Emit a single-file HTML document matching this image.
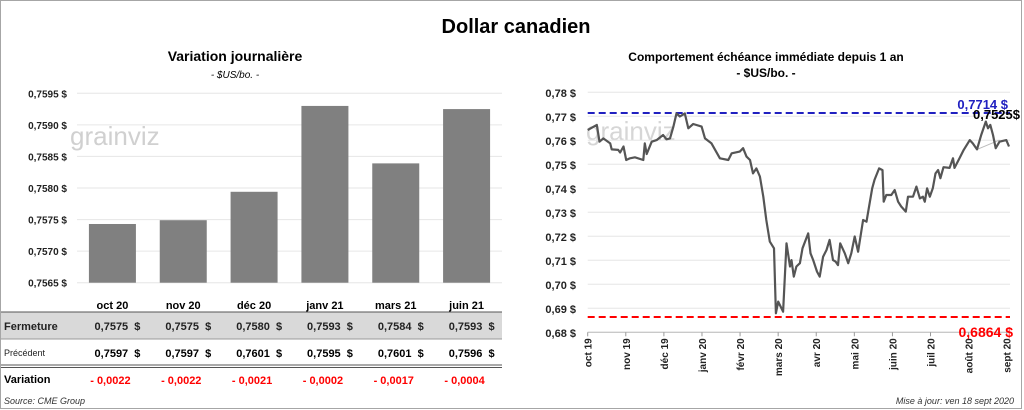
<!DOCTYPE html>
<html><head><meta charset="utf-8">
<style>
html,body{margin:0;padding:0;background:#fff;}
body{width:1024px;height:410px;overflow:hidden;position:relative;font-family:"Liberation Sans","DejaVu Sans",sans-serif;}
svg{position:absolute;left:0;top:0;}
</style></head>
<body>
<svg id="chart" width="1024" height="410" viewBox="0 0 1024 410" xmlns="http://www.w3.org/2000/svg" font-family="Liberation Sans, DejaVu Sans, sans-serif">
  <rect x="0.5" y="0.5" width="1021" height="408" fill="#fff" stroke="#a6a6a6"/>
  <text x="516" y="33" text-anchor="middle" font-size="20" font-weight="bold" fill="#000">Dollar canadien</text>
  <text x="235" y="61" text-anchor="middle" font-size="14" font-weight="bold" fill="#000">Variation  journalière</text>
  <text x="235" y="78" text-anchor="middle" font-size="10" font-style="italic" fill="#000">- $US/bo. -</text>
  <text x="766" y="61" text-anchor="middle" font-size="12" font-weight="bold" fill="#000">Comportement échéance immédiate depuis 1 an</text>
  <text x="766" y="77" text-anchor="middle" font-size="12" font-weight="bold" fill="#000">- $US/bo. -</text>
  <g id="left"></g>
  <g id="right"></g>
  <g id="table"></g>
  <text x="4" y="404" font-size="9" font-style="italic" fill="#333">Source: CME Group</text>
  <text x="1014" y="404" text-anchor="end" font-size="9" font-style="italic" fill="#333">Mise à jour: ven 18 sept 2020</text>
</svg>
<script>
const barCategories = ["oct 20","nov 20","déc 20","janv 21","mars 21","juin 21"];
const barValues = [0.75743,0.75749,0.75794,0.7593,0.75839,0.75925];
const barTicks = [0.7565,0.7570,0.7575,0.7580,0.7585,0.7590,0.7595];
const closeVals = ["0,7575","0,7575","0,7580","0,7593","0,7584","0,7593"];
const prevVals = ["0,7597","0,7597","0,7601","0,7595","0,7601","0,7596"];
const changeVals = ["- 0,0022","- 0,0022","- 0,0021","- 0,0002","- 0,0017","- 0,0004"];

const lineMonths = ["oct 19","nov 19","déc 19","janv 20","févr 20","mars 20","avr 20","mai 20","juin 20","juil 20","août 20","sept 20"];
const lineTicks = [0.68,0.69,0.70,0.71,0.72,0.73,0.74,0.75,0.76,0.77,0.78];
const lineT = [0,.24,.31,.41,.59,.63,.80,.85,.94,1.01,1.11,1.24,1.46,1.50,1.55,1.68,1.81,1.98,2.07,2.16,2.25,2.33,2.42,2.55,2.64,2.77,2.99,3.08,3.25,3.47,3.69,3.78,3.99,4.08,4.17,4.26,4.34,4.43,4.52,4.61,4.69,4.78,4.89,4.94,5.00,5.13,5.22,5.31,5.35,5.41,5.48,5.57,5.64,5.79,5.85,5.92,6.02,6.09,6.18,6.27,6.35,6.44,6.51,6.57,6.63,6.75,6.84,6.92,7.01,7.10,7.23,7.32,7.40,7.47,7.53,7.65,7.74,7.77,7.84,7.97,8.06,8.15,8.23,8.35,8.41,8.54,8.63,8.72,8.80,8.85,8.91,8.98,9.06,9.13,9.20,9.26,9.34,9.50,9.59,9.63,9.76,9.87,10.03,10.11,10.22,10.33,10.45,10.51,10.57,10.64,10.71,10.81,10.99,11.06];
const lineV = [.7643,.7664,.7594,.7608,.7587,.7562,.7560,.7549,.7574,.7518,.7525,.7529,.7518,.7587,.7543,.7594,.7601,.7622,.7604,.7608,.7657,.7712,.7699,.7712,.7650,.7668,.7657,.7608,.7587,.7525,.7518,.7546,.7553,.7567,.7532,.7518,.7462,.7483,.7449,.7365,.7268,.7178,.7150,.6879,.6928,.6886,.7171,.7074,.7101,.7032,.7074,.7088,.7150,.7212,.7129,.7101,.7053,.7032,.7115,.7143,.7185,.7101,.7094,.7080,.7171,.7129,.7088,.7129,.7199,.7136,.7268,.7261,.7337,.7400,.7435,.7483,.7476,.7344,.7372,.7372,.7393,.7344,.7324,.7303,.7365,.7365,.7407,.7358,.7365,.7344,.7400,.7365,.7400,.7462,.7476,.7442,.7488,.7485,.7525,.7485,.7525,.7560,.7601,.7587,.7562,.7622,.7678,.7650,.7664,.7622,.7567,.7594,.7601,.7574];
const highVal = 0.7714, lowVal = 0.6864, lastVal = 0.7525;

const NS="http://www.w3.org/2000/svg";
function mk(parent,tag,attrs,text){const e=document.createElementNS(NS,tag);for(const k in attrs)e.setAttribute(k,attrs[k]);if(text!==undefined)e.textContent=text;parent.appendChild(e);return e;}
const fmt=(v,d)=>v.toFixed(d).replace('.',',');

// ---- bar chart
const L=document.getElementById('left');
const bx0=77,bx1=502,by0=282.7,by1=93.3;
const byS=v=>by0-(v-0.7565)/(0.7595-0.7565)*(by0-by1);
const band=(bx1-bx0)/barCategories.length;
const bxS=i=>bx0+band*(i+0.5);
const wmL=mk(L,'text',{x:70,y:145,'font-size':26,fill:'#d0d0d0'},'grainviz');


barTicks.forEach(t=>{
  const g=mk(L,'line',{x1:bx0,x2:bx1,y1:byS(t),y2:byS(t),stroke:'#e6e6e6','stroke-width':1});
  
  
  const tx=mk(L,'text',{x:67,y:byS(t)+4,'text-anchor':'end','font-size':10,'font-weight':'bold',fill:'#222'},fmt(t,4)+' $');
  
  
});
barValues.forEach((v,i)=>{
  const r=mk(L,'rect',{x:bxS(i)-23.5,y:byS(v),width:47,height:by0-byS(v),fill:'#808080'});
  
  
});

// ---- table
const T=document.getElementById('table');
mk(T,'rect',{x:1,y:312,width:501,height:27,fill:'#d9d9d9'});
mk(T,'line',{x1:1,x2:502,y1:312,y2:312,stroke:'#555','stroke-width':1});
mk(T,'line',{x1:1,x2:502,y1:339,y2:339,stroke:'#999','stroke-width':1});
mk(T,'line',{x1:1,x2:502,y1:365,y2:365,stroke:'#555','stroke-width':1});
mk(T,'line',{x1:1,x2:502,y1:367.5,y2:367.5,stroke:'#555','stroke-width':1});
mk(T,'line',{x1:1,x2:502,y1:300,y2:300,stroke:'#ddd','stroke-width':0});
const h1=mk(T,'text',{x:4,y:330,'font-size':11,'font-weight':'bold',fill:'#222'},'Fermeture');

const h2=mk(T,'text',{x:4,y:356,'font-size':9,fill:'#222'},'Précédent');

const h3=mk(T,'text',{x:4,y:383,'font-size':11,'font-weight':'bold',fill:'#000'},'Variation');

barCategories.forEach((c,i)=>{
  const cx=bxS(i);
  const a=mk(T,'text',{x:cx,y:309,'text-anchor':'middle','font-size':11,'font-weight':'bold',fill:'#000'},c);
  
  const b=mk(T,'text',{x:cx+28,y:330,'text-anchor':'end','font-size':11,'font-weight':'bold',fill:'#222'},closeVals[i]+'  $');
  
  b.setAttribute('xml:space','preserve');b.style.whiteSpace='pre';
  const d=mk(T,'text',{x:cx+28,y:357,'text-anchor':'end','font-size':11,'font-weight':'bold',fill:'#000'},prevVals[i]+'  $');
  
  d.style.whiteSpace='pre';
  const e=mk(T,'text',{x:cx-2,y:384,'text-anchor':'middle','font-size':11,'font-weight':'bold',fill:'#ff0000'},changeVals[i]);
  
});

// ---- line chart
const R=document.getElementById('right');
const lx0=587.7,lx1=1006.7,ly0=332.3,ly1=92.3;
const lxS=m=>lx0+m*(lx1-lx0)/11;
const lyS=v=>ly0-(v-0.68)/(0.78-0.68)*(ly0-ly1);
const wmR=mk(R,'text',{x:586,y:140,'font-size':26,fill:'#d6d6d6'},'grainviz');


lineTicks.forEach(t=>{
  const g=mk(R,'line',{x1:lx0,x2:1010,y1:lyS(t),y2:lyS(t),stroke:'#e6e6e6','stroke-width':1});
  
  
  const tx=mk(R,'text',{x:576,y:lyS(t)+4.5,'text-anchor':'end','font-size':11,'font-weight':'bold',fill:'#222'},fmt(t,2)+' $');
  
  
});
mk(R,'line',{x1:lx0,x2:1010,y1:ly0,y2:ly0,stroke:'#bbb','stroke-width':1});
lineMonths.forEach((m,i)=>{
  const x=lxS(i);
  mk(R,'line',{x1:x,x2:x,y1:ly0,y2:ly0+4,stroke:'#999'});
  const tx=mk(R,'text',{x:0,y:0,'text-anchor':'end','font-size':10,'font-weight':'bold',fill:'#222',transform:`translate(${x+4},${ly0+6}) rotate(-90)`},m);
  
  
});
const hl=mk(R,'line',{x1:lx0,x2:1010,y1:lyS(highVal),y2:lyS(highVal),stroke:'#2020c0','stroke-width':2,'stroke-dasharray':'7,4'});

const ll=mk(R,'line',{x1:lx0,x2:1010,y1:lyS(lowVal),y2:lyS(lowVal),stroke:'#ff0000','stroke-width':2,'stroke-dasharray':'7,4'});

const n=lineT.length;
mk(R,'line',{x1:lxS(lineT[n-10]),y1:lyS(lineV[n-10]),x2:lxS(lineT[n-3]),y2:lyS(0.7601),stroke:'#bbb','stroke-width':1});
const pts=lineT.map((t,i)=>lxS(t).toFixed(1)+','+lyS(lineV[i]).toFixed(1)).join(' ');
const pl=mk(R,'polyline',{points:pts,fill:'none',stroke:'#555','stroke-width':2.2,'stroke-linejoin':'round'});

const hv=mk(R,'text',{x:1008,y:lyS(highVal)-4,'text-anchor':'end','font-size':13,'font-weight':'bold',fill:'#2020c0'},fmt(highVal,4)+' $');

const lv=mk(R,'text',{x:1020,y:lyS(highVal)+6,'text-anchor':'end','font-size':13,'font-weight':'bold',fill:'#000'},fmt(lastVal,4)+'$');

const lo=mk(R,'text',{x:1013,y:lyS(lowVal)+20,'text-anchor':'end','font-size':14,'font-weight':'bold',fill:'#ff0000'},fmt(lowVal,4)+' $');

</script>
</body></html>
